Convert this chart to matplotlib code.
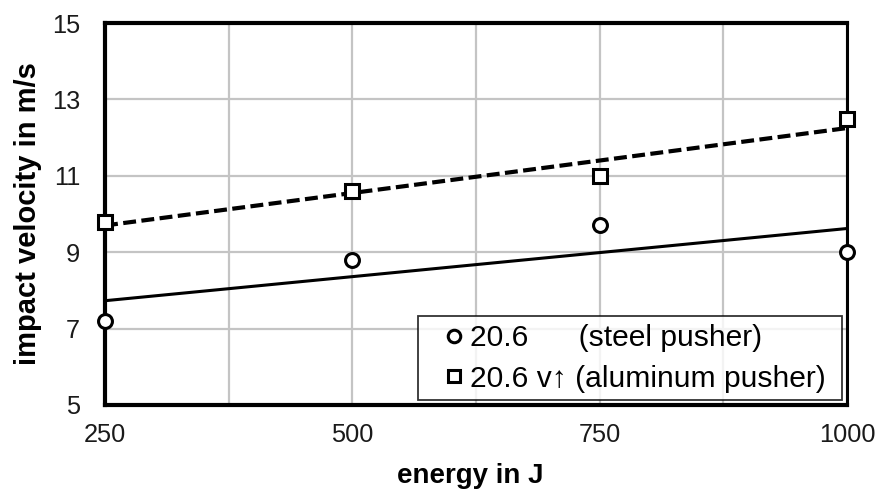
import numpy as np
import matplotlib.pyplot as plt

plt.rcParams['font.family'] = ['Liberation Sans', 'DejaVu Sans']

energy = [250, 500, 750, 1000]
steel_v = [7.2, 8.8, 9.7, 9.0]
alu_v = [9.8, 10.6, 11.0, 12.5]
labels = ["20.6      (steel pusher)", "20.6 v\u2191 (aluminum pusher) "]


def main():
    fig = plt.figure(figsize=(8.79, 4.9), dpi=100)
    ax = fig.add_axes([0.1195, 0.1735, 0.844, 0.7795])

    x = np.array(energy, dtype=float)
    xl = np.array([250, 1000])

    # linear trend lines
    k1 = np.polyfit(x, steel_v, 1)
    k2 = np.polyfit(x, alu_v, 1)
    ax.plot(xl, np.polyval(k1, xl), color='black', lw=2.2, zorder=3)
    ax.plot(xl, np.polyval(k2, xl), color='black', lw=3, ls=(0, (3.1, 1.3)), zorder=3)

    ax.plot(x, steel_v, 'o', ms=10, mfc='white', mec='black', mew=2.2,
            label=labels[0], clip_on=False, zorder=5)
    ax.plot(x, alu_v, 's', ms=10, mfc='white', mec='black', mew=2.2,
            label=labels[1], clip_on=False, zorder=5)

    ax.set_xlim(250, 1000)
    ax.set_ylim(5, 15)
    ax.set_xticks([250, 500, 750, 1000])
    ax.set_xticks([375, 625, 875], minor=True)
    ax.set_yticks([5, 7, 9, 11, 13, 15])
    ax.grid(True, which='both', color='#c4c4c4', lw=1.6, zorder=0)
    ax.set_axisbelow(True)
    ax.tick_params(which='both', length=0, labelsize=18.3, colors='#1a1a1a')
    ax.tick_params(axis='x', pad=13)
    ax.tick_params(axis='y', pad=18)

    for s in ax.spines.values():
        s.set_color('black')
        s.set_linewidth(3)
    ax.spines['right'].set_linewidth(2.2)

    ax.set_xlabel("energy in J", fontsize=20, fontweight='bold', labelpad=11.5)
    ax.xaxis.label.set_x(0.492)
    ax.set_ylabel("impact velocity in m/s", fontsize=21, fontweight='bold', labelpad=7)

    leg = ax.legend(loc='lower right', fontsize=21.6, frameon=True, fancybox=False,
                    edgecolor='black', handletextpad=-0.38, handlelength=1.85,
                    markerscale=0.9, borderpad=0.25, labelspacing=0.43,
                    handleheight=0.6, borderaxespad=0,
                    bbox_to_anchor=(0.993, 0.013))
    leg.get_frame().set_linewidth(1.3)
    leg.set_zorder(6)

    fig.savefig("out.png", dpi=100)
    plt.close(fig)


if __name__ == "__main__":
    main()
